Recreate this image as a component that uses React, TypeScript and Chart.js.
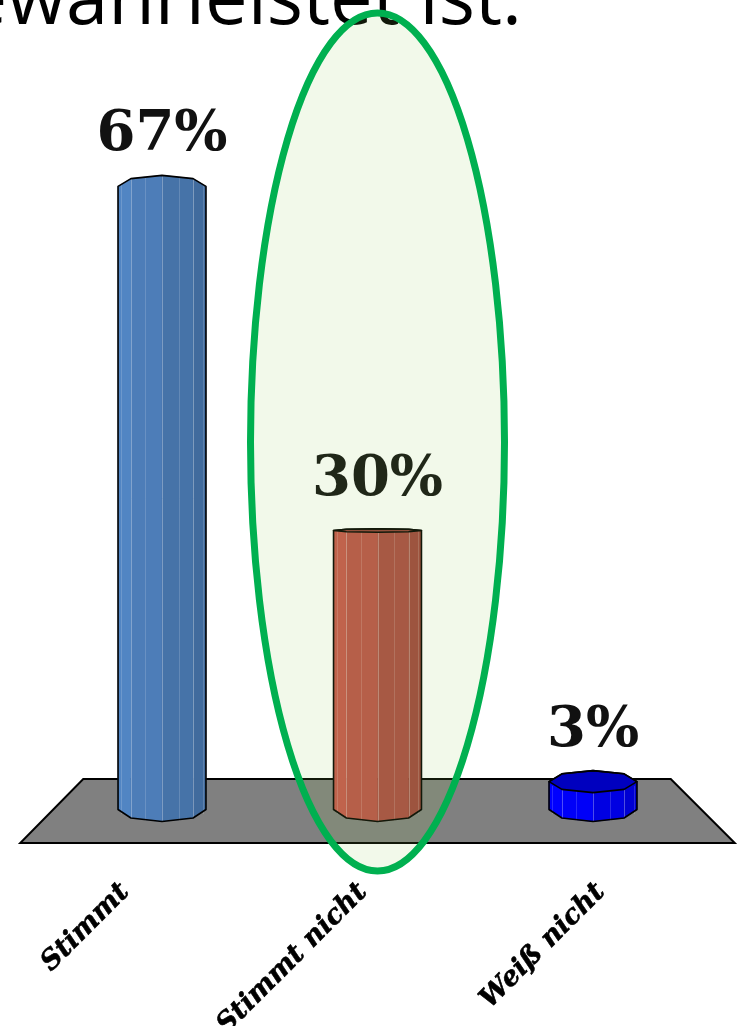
import React, { useEffect, useRef } from "react";
import { Chart, registerables } from "chart.js";

Chart.register(...registerables);

// Survey answers and their shares in percent
const categories = ["Stimmt", "Stimmt nicht", "Weiß nicht"];
const shares = [67, 30, 3];
const barColors = ["#4f81bd", "#c0524a", "#0000ff"];
const valueLabels = shares.map((v) => `${v}%`);
const titleLine = "gewährleistet ist.";
const highlightedIndex = 1;

const WIDTH = 742;
const HEIGHT = 1026;

function shade(hex: string, f: number): string {
  const n = parseInt(hex.slice(1), 16);
  const r = Math.min(255, Math.round(((n >> 16) & 255) * f));
  const g = Math.min(255, Math.round(((n >> 8) & 255) * f));
  const b = Math.min(255, Math.round((n & 255) * f));
  return `rgb(${r},${g},${b})`;
}

// Octagonal column seen in slight perspective; the rim tilt grows with the
// distance from the horizon line.
function drawColumn(
  ctx: CanvasRenderingContext2D,
  cx: number,
  top: number,
  base: number,
  r: number,
  color: string,
  horizon: number
) {
  const K = 0.037;
  const bT = K * (top - horizon);
  const bB = K * (base - horizon);
  const angles = [0, 1, 2, 3, 4].map((j) => Math.PI + (j * Math.PI) / 4);
  const px = (t: number) => cx + r * Math.cos(t);
  const dy = (t: number) => Math.abs(Math.sin(t));

  ctx.save();
  // side faces
  for (let j = 0; j < 4; j++) {
    const a0 = angles[j];
    const a1 = angles[j + 1];
    const mid = (a0 + a1) / 2;
    const f = 1.04 - 0.11 * (Math.cos(mid) + 1);
    ctx.beginPath();
    ctx.moveTo(px(a0), top + bT * dy(a0));
    ctx.lineTo(px(a1), top + bT * dy(a1));
    ctx.lineTo(px(a1), base + bB * dy(a1));
    ctx.lineTo(px(a0), base + bB * dy(a0));
    ctx.closePath();
    ctx.fillStyle = shade(color, f);
    ctx.fill();
    ctx.strokeStyle = shade(color, f);
    ctx.lineWidth = 0.6;
    ctx.stroke();
  }
  // fine ribs
  for (let m = 1; m < 8; m++) {
    const t = Math.PI + (m * Math.PI) / 8;
    const x = Math.round(px(t)) + 0.5;
    ctx.beginPath();
    ctx.moveTo(x, top + bT * dy(t));
    ctx.lineTo(x, base + bB * dy(t));
    ctx.strokeStyle = m % 2 === 0 ? "rgba(255,255,255,0.30)" : "rgba(255,255,255,0.16)";
    ctx.lineWidth = 1;
    ctx.stroke();
  }
  // top face when seen from above
  if (bT > 0) {
    ctx.beginPath();
    angles.forEach((a, j) => {
      const y = top + bT * dy(a);
      if (j === 0) ctx.moveTo(px(a), y);
      else ctx.lineTo(px(a), y);
    });
    for (let j = 3; j >= 1; j--) {
      ctx.lineTo(px(angles[j]), top - bT * dy(angles[j]));
    }
    ctx.closePath();
    ctx.fillStyle = shade(color, 0.75);
    ctx.fill();
    ctx.strokeStyle = "#000";
    ctx.lineWidth = 1.6;
    ctx.lineJoin = "round";
    ctx.stroke();
  }
  // silhouette
  ctx.beginPath();
  angles.forEach((a, j) => {
    const y = top - Math.abs(bT) * dy(a);
    if (j === 0) ctx.moveTo(px(a), y);
    else ctx.lineTo(px(a), y);
  });
  for (let j = 4; j >= 0; j--) {
    ctx.lineTo(px(angles[j]), base + bB * dy(angles[j]));
  }
  ctx.closePath();
  ctx.strokeStyle = "#000";
  ctx.lineWidth = 1.6;
  ctx.lineJoin = "round";
  ctx.stroke();
  ctx.restore();
}

const columnsPlugin = {
  id: "columns3d",
  beforeDatasetsDraw(chart: any) {
    const { ctx, chartArea: ca } = chart;
    ctx.save();
    ctx.beginPath();
    ctx.moveTo(ca.left + 29, ca.bottom - 30.5);
    ctx.lineTo(ca.right - 30, ca.bottom - 30.5);
    ctx.lineTo(ca.right + 34, ca.bottom + 33.5);
    ctx.lineTo(ca.left - 34, ca.bottom + 33.5);
    ctx.closePath();
    ctx.fillStyle = "#808080";
    ctx.fill();
    ctx.strokeStyle = "#000";
    ctx.lineWidth = 2;
    ctx.lineJoin = "miter";
    ctx.stroke();
    ctx.restore();
  },
  afterDatasetsDraw(chart: any) {
    const { ctx, chartArea: ca } = chart;
    const horizon = (ca.top + ca.bottom) / 2;
    const meta = chart.getDatasetMeta(0);
    const mid = (ca.left + ca.right) / 2;

    meta.data.forEach((el: any, i: number) => {
      const { x, y, base, width } = el.getProps(["x", "y", "base", "width"], true);
      drawColumn(ctx, x, y, base, width / 2, barColors[i], horizon);

      // value label above the column
      ctx.save();
      ctx.font = 'bold 56px "DejaVu Serif"';
      ctx.fillStyle = "#111";
      ctx.textAlign = "center";
      ctx.textBaseline = "alphabetic";
      ctx.fillText(valueLabels[i], x, y - 36);
      ctx.restore();

      // category label on the front edge of the floor, rotated
      const ax = mid - 24 + 1.104 * (x - mid);
      const ay = ca.bottom + 69;
      ctx.save();
      ctx.translate(ax, ay);
      ctx.rotate(-Math.PI / 4);
      ctx.font = 'italic bold 27px "DejaVu Serif"';
      ctx.fillStyle = "#000";
      ctx.strokeStyle = "#000";
      ctx.lineWidth = 0.6;
      ctx.textAlign = "right";
      ctx.textBaseline = "top";
      ctx.fillText(categories[i], 0, 0);
      ctx.strokeText(categories[i], 0, 0);
      ctx.restore();
    });

    // heading line
    ctx.save();
    ctx.font = '100px "Open Sans"';
    const w = ctx.measureText("währleistet ist.").width;
    const size = (100 * 515) / w;
    ctx.font = `${size}px "Open Sans"`;
    ctx.fillStyle = "#000";
    ctx.textAlign = "right";
    ctx.textBaseline = "alphabetic";
    ctx.fillText(titleLine, 522, 24);
    ctx.restore();

    // highlight ring around the middle answer
    const hl = meta.data[highlightedIndex];
    const hx = hl.getProps(["x"], true).x;
    ctx.save();
    ctx.beginPath();
    ctx.ellipse(hx, 442, 127, 429, 0, 0, Math.PI * 2);
    ctx.fillStyle = "rgba(146,208,80,0.12)";
    ctx.fill();
    ctx.strokeStyle = "#00b050";
    ctx.lineWidth = 7;
    ctx.stroke();
    ctx.restore();
  },
};

export default function App() {
  const canvasRef = useRef<HTMLCanvasElement | null>(null);

  useEffect(() => {
    if (!canvasRef.current) return;
    const chart = new Chart(canvasRef.current, {
      type: "bar",
      data: {
        labels: categories,
        datasets: [
          {
            data: shares,
            backgroundColor: "rgba(0,0,0,0)",
            borderWidth: 0,
            barPercentage: 0.408,
            categoryPercentage: 1,
          },
        ],
      },
      options: {
        responsive: false,
        maintainAspectRatio: false,
        animation: false,
        devicePixelRatio: 1,
        layout: { padding: { left: 54.25, right: 41.25, top: 158.5, bottom: 216.5 } },
        scales: {
          x: { display: false, offset: true },
          y: { display: false, min: 0, max: 70 },
        },
        plugins: {
          legend: { display: false },
          tooltip: { enabled: false },
          title: { display: false },
        },
        events: [],
      },
      plugins: [columnsPlugin],
    });
    return () => chart.destroy();
  }, []);

  return (
    <div style={{ position: "fixed", left: 0, top: 0, width: WIDTH, height: HEIGHT, background: "#fff" }}>
      <canvas ref={canvasRef} width={WIDTH} height={HEIGHT} style={{ display: "block" }} />
    </div>
  );
}
